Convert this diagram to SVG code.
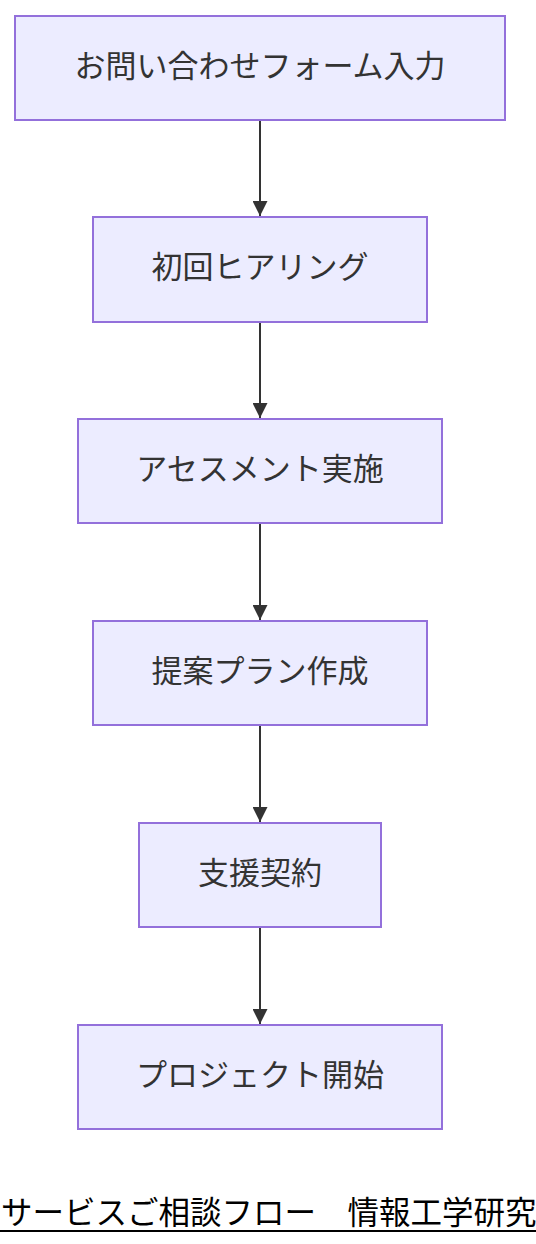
<svg xmlns="http://www.w3.org/2000/svg" width="536" height="1244" viewBox="0 0 536 1244">
<defs>
<style>
.node rect{fill:#ECECFF;stroke:#9370DB;stroke-width:2}
.node text{font-family:"Noto Sans CJK JP","Noto Sans",sans-serif;font-size:31px;fill:#333;text-anchor:middle;dominant-baseline:central}
.edge{stroke:#333;stroke-width:2;fill:none}
.title{font-family:"Noto Sans CJK JP",sans-serif;font-size:31.5px;fill:#000}
</style>
<marker id="arr" viewBox="0 0 10 10" refX="10" refY="5" markerWidth="7.5" markerHeight="7.5" markerUnits="strokeWidth" orient="auto">
<path d="M0,0 L10,5 L0,10 z" fill="#333"/>
</marker>
</defs>
<rect width="536" height="1244" fill="#fff"/>
<g id="connectors">
<line class="edge" x1="260" y1="120" x2="260" y2="216" marker-end="url(#arr)"/>
<line class="edge" x1="260" y1="322" x2="260" y2="418" marker-end="url(#arr)"/>
<line class="edge" x1="260" y1="523" x2="260" y2="620" marker-end="url(#arr)"/>
<line class="edge" x1="260" y1="725" x2="260" y2="822" marker-end="url(#arr)"/>
<line class="edge" x1="260" y1="927" x2="260" y2="1024" marker-end="url(#arr)"/>
</g>
<g id="n1" class="node"><rect x="15" y="16" width="490" height="104"/><text x="260" y="63">お問い合わせフォーム入力</text></g>
<g id="n2" class="node"><rect x="93" y="217" width="334" height="105"/><text x="260" y="264">初回ヒアリング</text></g>
<g id="n3" class="node"><rect x="78" y="419" width="364" height="104"/><text x="260" y="466">アセスメント実施</text></g>
<g id="n4" class="node"><rect x="93" y="621" width="334" height="104"/><text x="260" y="668">提案プラン作成</text></g>
<g id="n5" class="node"><rect x="139" y="823" width="242" height="104"/><text x="260" y="870">支援契約</text></g>
<g id="n6" class="node"><rect x="78" y="1025" width="364" height="104"/><text x="260" y="1072">プロジェクト開始</text></g>
<g id="title">
<text class="title" x="1" y="1224">サービスご相談フロー　情報工学研究</text>
<line x1="0" y1="1231" x2="536" y2="1231" stroke="#000" stroke-width="2"/>
</g>
</svg>
